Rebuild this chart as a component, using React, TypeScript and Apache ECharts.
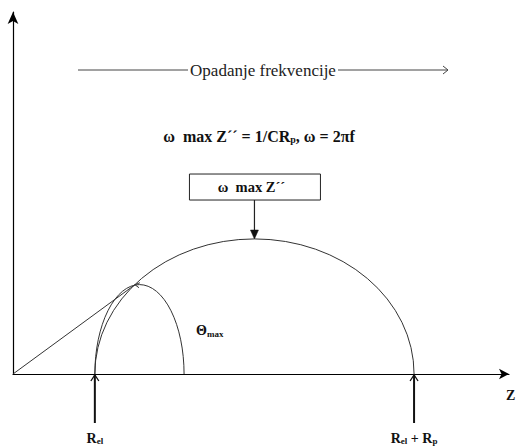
import { useEffect, useRef } from "react";
import * as echarts from "echarts";

// Nyquist plot parameters (arbitrary impedance units)
const R_EL = 10;
const R_P = 39;
const X_RANGE = [0, 60.6];
const Y_RANGE = [0, 52.3];
const SEMICIRCLE = [[R_EL, R_EL + R_P, R_P / 2]]; // start, end, height
const OMEGA_MAX_POINT = [[R_EL + R_P / 2, R_P / 2]];
const TANGENT_LINE = [[0, 0], [14.9, 12.9]];
const THETA_ARC = [[10, 20.9, 12.9]]; // start x, end x, height
const R_MARKS = [R_EL, R_EL + R_P];
const R_LABELS = ["{r|R}{s|el}", "{r|R}{s|el}{r| + R}{s|p}"];
const BOX_LABEL = "ω  max Z´´";
const FORMULA = "{b|ω  max Z´´ = 1/CR}{s|p}{b|, ω = 2πf}";
const TOP_LABEL = "Opadanje frekvencije";
const THETA_LABEL = "{t|Θ}{s|max}";
const AXIS_LABEL = "Z";

const SERIF = "Liberation Serif";
const LINE = "#333";

function arcPath(a: number[], b: number[], ry: number) {
  const rx = (b[0] - a[0]) / 2;
  return `M${a[0]} ${a[1]} A${rx} ${ry} 0 0 1 ${b[0]} ${b[1]}`;
}

export default function App() {
  const ref = useRef<HTMLDivElement>(null);
  useEffect(() => {
    if (!ref.current) return;
    const chart = echarts.init(ref.current, null, { renderer: "svg" });
    const option: any = {
      animation: false,
      backgroundColor: "#fff",
      textStyle: { fontFamily: SERIF },
      grid: { left: 13, right: 9, top: 12, bottom: 72, outerBoundsMode: "none", containLabel: false },
      xAxis: {
        type: "value",
        min: X_RANGE[0],
        max: X_RANGE[1],
        axisLine: { show: true, symbol: ["none", "arrow"], symbolSize: [8, 10], symbolOffset: [0, 0], lineStyle: { color: "#000", width: 1.2 } },
        axisTick: { show: false },
        axisLabel: { show: false },
        splitLine: { show: false },
      },
      yAxis: {
        type: "value",
        min: Y_RANGE[0],
        max: Y_RANGE[1],
        axisLine: { show: true, symbol: ["none", "arrow"], symbolSize: [8, 12], symbolOffset: [0, 0], lineStyle: { color: "#000", width: 1.2 } },
        axisTick: { show: false },
        axisLabel: { show: false },
        splitLine: { show: false },
      },
      series: [
        {
          type: "line",
          data: TANGENT_LINE,
          symbol: "none",
          silent: true,
          lineStyle: { color: LINE, width: 1 },
        },
        {
          type: "custom",
          silent: true,
          data: SEMICIRCLE,
          renderItem: (_p: any, api: any) => {
            const a = api.coord([api.value(0), 0]);
            const b = api.coord([api.value(1), 0]);
            const t = api.coord([(api.value(0) + api.value(1)) / 2, api.value(2)]);
            return {
              type: "path",
              shape: { pathData: arcPath(a, b, a[1] - t[1]) },
              style: { fill: "none", stroke: LINE, lineWidth: 1 },
            };
          },
        },
        {
          type: "custom",
          silent: true,
          data: THETA_ARC,
          renderItem: (_p: any, api: any) => {
            const a = api.coord([api.value(0), 0]);
            const b = api.coord([api.value(1), 0]);
            const t = api.coord([(api.value(0) + api.value(1)) / 2, api.value(2)]);
            const tp = api.coord(TANGENT_LINE[1]);
            return {
              type: "group",
              children: [
                {
                  type: "path",
                  shape: { pathData: arcPath(a, b, a[1] - t[1]) },
                  style: { fill: "none", stroke: LINE, lineWidth: 1 },
                },
                {
                  type: "polyline",
                  shape: { points: [[tp[0] + 5, tp[1] - 2], [tp[0], tp[1]], [tp[0] + 4, tp[1] + 3]] },
                  style: { fill: "none", stroke: LINE, lineWidth: 1 },
                },
                {
                  type: "text",
                  x: b[0] + 12,
                  y: t[1] + 46,
                  style: {
                    text: THETA_LABEL,
                    align: "left",
                    verticalAlign: "middle",
                    fill: "#111",
                    rich: {
                      t: { fontFamily: SERIF, fontWeight: "bold", fontSize: 14, fill: "#111" },
                      s: { fontFamily: SERIF, fontWeight: "bold", fontSize: 9, fill: "#111", verticalAlign: "bottom", padding: [6, 0, 0, 0] },
                    },
                  },
                },
              ],
            };
          },
        },
        {
          type: "custom",
          silent: true,
          data: OMEGA_MAX_POINT,
          renderItem: (_p: any, api: any) => {
            const tip = api.coord([api.value(0), api.value(1)]);
            const x = tip[0];
            const y = tip[1];
            return {
              type: "group",
              children: [
                {
                  type: "rect",
                  shape: { x: x - 65, y: y - 65, width: 131, height: 26 },
                  style: { fill: "#fff", stroke: "#222", lineWidth: 1 },
                },
                {
                  type: "text",
                  x: x - 3,
                  y: y - 52,
                  style: {
                    text: BOX_LABEL,
                    align: "center",
                    verticalAlign: "middle",
                    fontFamily: SERIF,
                    fontWeight: "bold",
                    fontSize: 14.5,
                    fill: "#111",
                  },
                },
                {
                  type: "line",
                  shape: { x1: x, y1: y - 39, x2: x, y2: y - 8 },
                  style: { stroke: "#222", lineWidth: 1.2 },
                },
                {
                  type: "polygon",
                  shape: { points: [[x - 4, y - 9], [x + 4, y - 9], [x, y]] },
                  style: { fill: "#111", stroke: "#111", lineWidth: 0.5 },
                },
              ],
            };
          },
        },
        {
          type: "custom",
          silent: true,
          data: R_MARKS.map((v, i) => [v, 0, i]),
          renderItem: (_p: any, api: any) => {
            const p = api.coord([api.value(0), 0]);
            const x = p[0];
            const y = p[1];
            const label = R_LABELS[api.value(2)];
            return {
              type: "group",
              children: [
                {
                  type: "line",
                  shape: { x1: x, y1: y + 49, x2: x, y2: y + 1 },
                  style: { stroke: "#111", lineWidth: 2 },
                },
                {
                  type: "polyline",
                  shape: { points: [[x - 4, y + 7], [x, y + 1], [x + 4, y + 7]] },
                  style: { fill: "none", stroke: "#111", lineWidth: 1.3 },
                },
                {
                  type: "text",
                  x: x,
                  y: y + 64,
                  style: {
                    text: label,
                    align: "center",
                    verticalAlign: "middle",
                    fill: "#111",
                    rich: {
                      r: { fontFamily: SERIF, fontWeight: "bold", fontSize: 14, fill: "#111" },
                      s: { fontFamily: SERIF, fontWeight: "bold", fontSize: 9, fill: "#111", verticalAlign: "bottom", padding: [5, 0, 0, 0] },
                    },
                  },
                },
              ],
            };
          },
        },
        {
          type: "custom",
          silent: true,
          data: [[X_RANGE[1], 0]],
          renderItem: (_p: any, api: any) => {
            const p = api.coord([api.value(0), api.value(1)]);
            return {
              type: "text",
              x: p[0] - 3,
              y: p[1] + 21,
              style: {
                text: AXIS_LABEL,
                align: "left",
                verticalAlign: "middle",
                fontFamily: SERIF,
                fontWeight: "bold",
                fontSize: 14,
                fill: "#111",
              },
            };
          },
        },
      ],
      graphic: [
        {
          type: "line",
          silent: true,
          shape: { x1: 78, y1: 70, x2: 188, y2: 70 },
          style: { stroke: "#444", lineWidth: 1 },
        },
        {
          type: "line",
          silent: true,
          shape: { x1: 338, y1: 70, x2: 448, y2: 70 },
          style: { stroke: "#444", lineWidth: 1 },
        },
        {
          type: "polyline",
          silent: true,
          shape: { points: [[443, 66], [448, 70], [443, 74]] },
          style: { fill: "none", stroke: "#444", lineWidth: 1 },
        },
        {
          type: "text",
          silent: true,
          x: 263,
          y: 70,
          style: {
            text: TOP_LABEL,
            align: "center",
            verticalAlign: "middle",
            fontFamily: SERIF,
            fontSize: 17,
            fill: "#222",
          },
        },
        {
          type: "text",
          silent: true,
          x: 259,
          y: 136,
          style: {
            text: FORMULA,
            align: "center",
            verticalAlign: "middle",
            fill: "#111",
            rich: {
              b: { fontFamily: SERIF, fontWeight: "bold", fontSize: 16, fill: "#111" },
              s: { fontFamily: SERIF, fontWeight: "bold", fontSize: 10, fill: "#111", verticalAlign: "bottom", padding: [7, 0, 0, 0] },
            },
          },
        },
      ],
    };
    chart.setOption(option);
    return () => chart.dispose();
  }, []);
  return <div ref={ref} style={{ position: "absolute", left: 0, top: 0, width: 518, height: 446 }} />;
}
